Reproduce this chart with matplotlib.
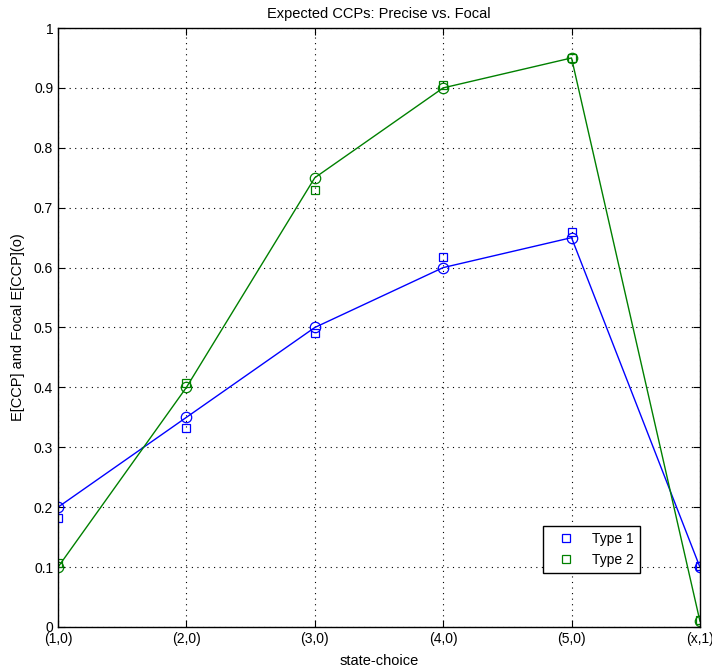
import numpy as np
import matplotlib
matplotlib.use("Agg")
import matplotlib.pyplot as plt

plt.rcParams['font.family'] = ['Liberation Sans', 'DejaVu Sans']

states = ['(1,0)', '(2,0)', '(3,0)', '(4,0)', '(5,0)', '(x,1)']
# precise expected CCPs (circles, joined)
type1_precise = [0.20, 0.35, 0.50, 0.60, 0.65, 0.10]
type2_precise = [0.10, 0.40, 0.75, 0.90, 0.95, 0.01]
# focal expected CCPs (squares)
type1_focal = [0.182, 0.333, 0.49, 0.617, 0.66, 0.102]
type2_focal = [0.107, 0.407, 0.73, 0.905, 0.95, 0.012]

blue = (0, 0, 1)
green = (0, 0.5, 0)

def main():
    x = np.arange(1, len(states) + 1)
    fig = plt.figure(figsize=(7.12, 6.7), dpi=100)
    ax = fig.add_axes([0.0815, 0.0642, 0.9015, 0.894])

    ax.plot(x, type1_focal, 's', mfc='none', mec=blue, ms=5.5, mew=0.9, label='Type 1')
    ax.plot(x, type2_focal, 's', mfc='none', mec=green, ms=5.5, mew=0.9, label='Type 2')
    ax.plot(x, type1_precise, '-o', color=blue, mfc='none', ms=7.5, lw=1, mew=0.9)
    ax.plot(x, type2_precise, '-o', color=green, mfc='none', ms=7.5, lw=1, mew=0.9)

    ax.set_xlim(1, len(states))
    ax.set_ylim(0, 1)
    ax.set_xticks(x)
    ax.set_xticklabels(states)
    ax.set_yticks(np.arange(0, 1.01, 0.1))
    ax.set_yticklabels(['0', '0.1', '0.2', '0.3', '0.4', '0.5', '0.6', '0.7', '0.8', '0.9', '1'])
    ax.tick_params(direction='in', length=5, labelsize=10, top=True, right=True, colors='black')
    ax.grid(True, linestyle=(0, (1, 4)), color='black', linewidth=0.8)
    for s in ax.spines.values():
        s.set_linewidth(1.0)

    ax.set_title('Expected CCPs: Precise vs. Focal', fontsize=10.5, pad=7)
    ax.set_xlabel('state-choice', fontsize=10.5, labelpad=6)
    ax.set_ylabel('E[CCP] and Focal E[CCP](o)', fontsize=10.5, labelpad=6)

    leg = ax.legend(loc='lower left', bbox_to_anchor=(0.755, 0.09), borderaxespad=0,
                    fontsize=10, fancybox=False, edgecolor='black', framealpha=1,
                    handlelength=2.5, borderpad=0.45, handletextpad=0.6)
    leg.get_frame().set_linewidth(1.0)

    fig.savefig('out.png', dpi=100)

if __name__ == "__main__":
    main()
